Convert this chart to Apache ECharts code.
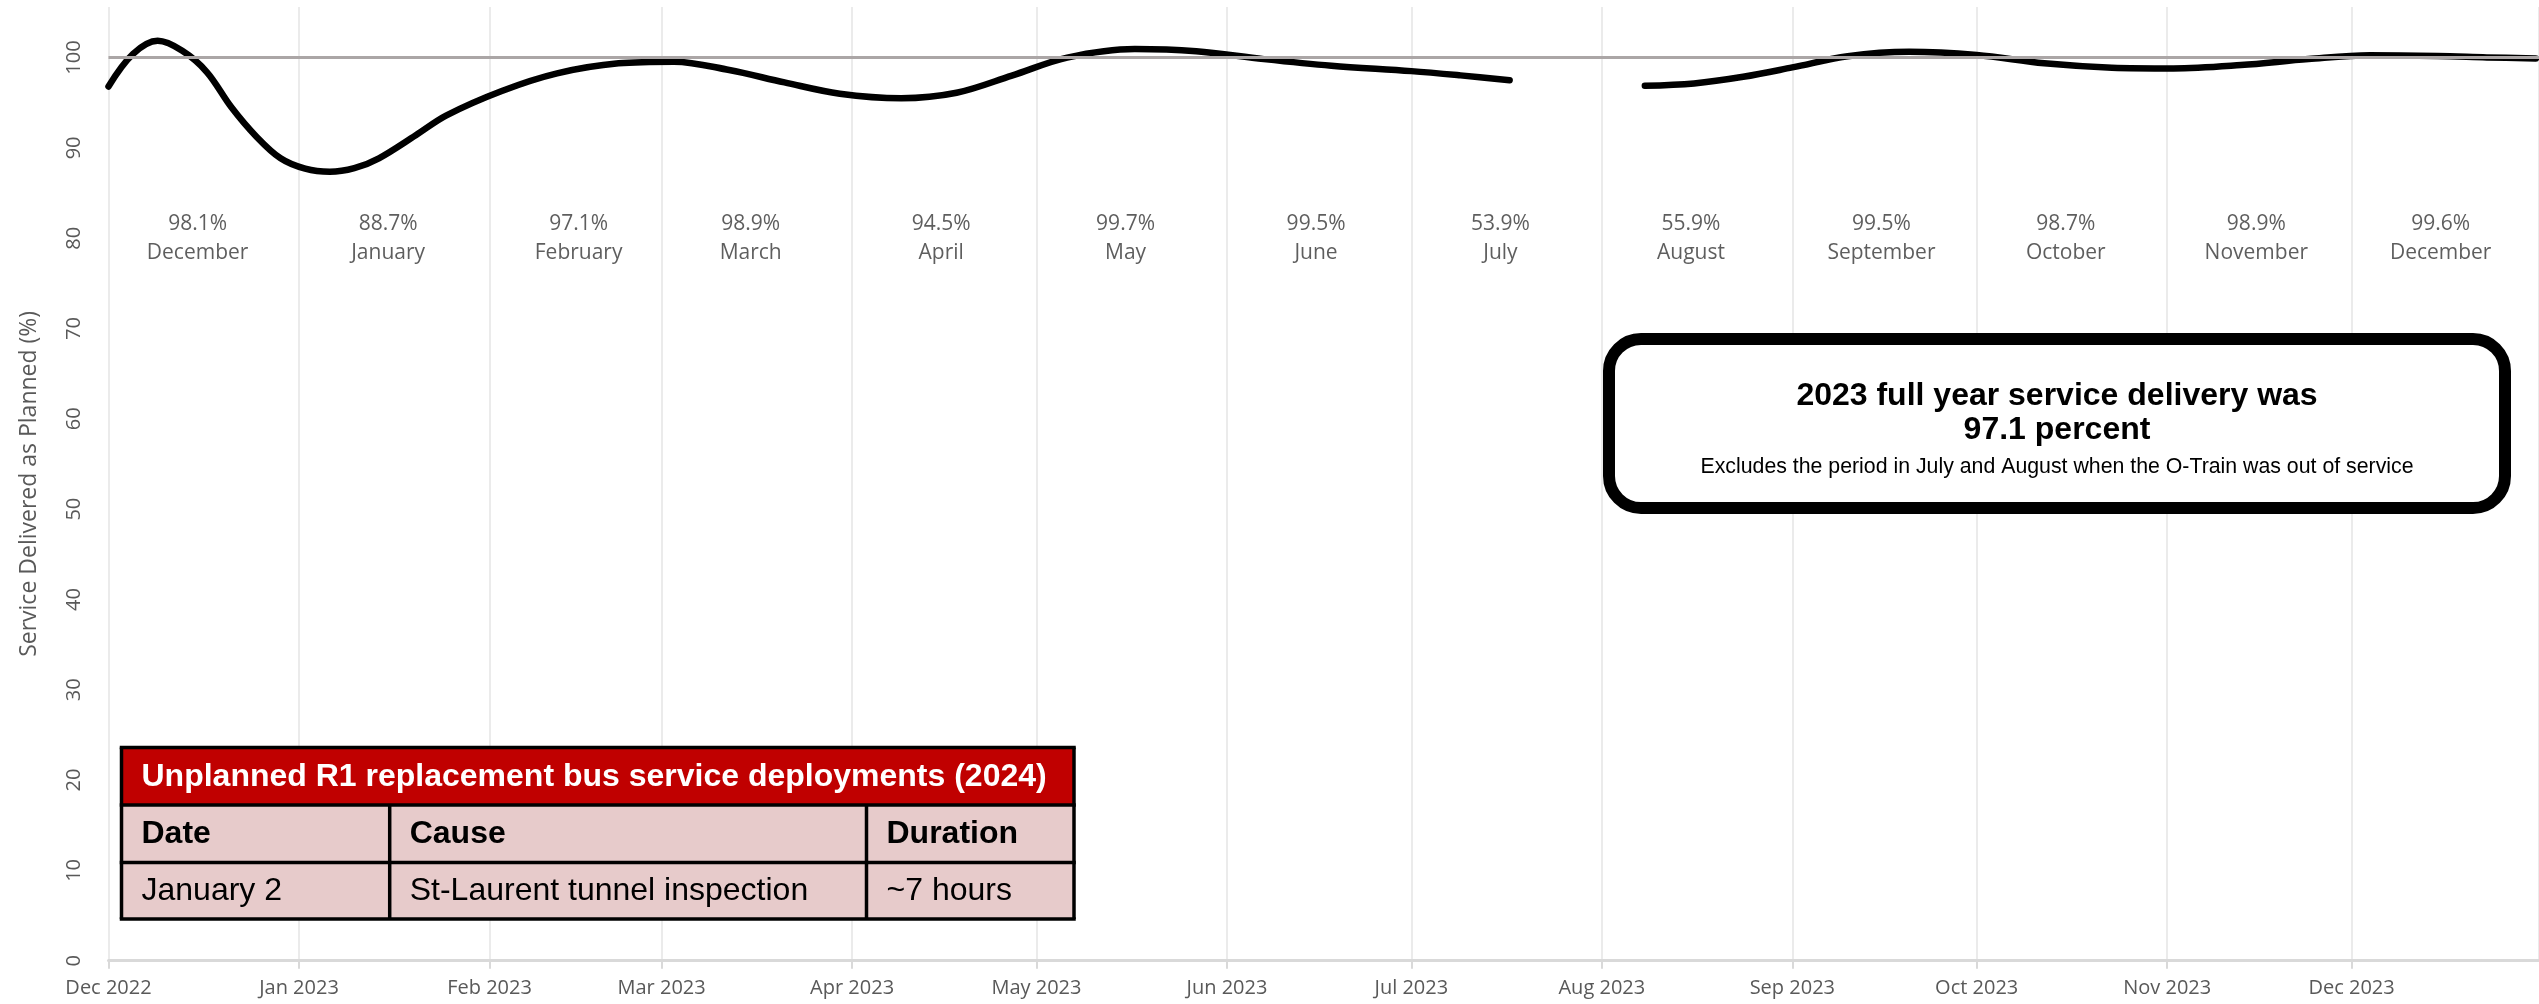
<!DOCTYPE html>
<html>
<head>
<meta charset="utf-8">
<title>Service Delivered as Planned</title>
<script src="https://cdn.jsdelivr.net/npm/echarts@6/dist/echarts.min.js"></script>
<style>
  html, body { margin: 0; padding: 0; background: #ffffff; }
  #chart { width: 2539px; height: 1004px; }
</style>
</head>
<body>
<div id="chart"></div>
<script>
// Smoothed service delivery trace (%); null marks the July–August O-Train shutdown gap
const curveDates = [
  '2022-12-01', '2022-12-05', '2022-12-09', '2022-12-13', '2022-12-17', '2022-12-21',
  '2022-12-25', '2022-12-29', '2023-01-02', '2023-01-06', '2023-01-10', '2023-01-14',
  '2023-01-20', '2023-01-25',
  '2023-02-03', '2023-02-12', '2023-02-22', '2023-03-03', '2023-03-12', '2023-03-21',
  '2023-03-30', '2023-04-09', '2023-04-18', '2023-04-27', '2023-05-06', '2023-05-17',
  '2023-05-27', '2023-06-07', '2023-06-18', '2023-07-01', '2023-07-09', '2023-07-17',
  '2023-07-28',
  '2023-08-08', '2023-08-16', '2023-08-24', '2023-09-01', '2023-09-10', '2023-09-20',
  '2023-10-01', '2023-10-12', '2023-10-23', '2023-11-02', '2023-11-13', '2023-11-24',
  '2023-12-04', '2023-12-15', '2023-12-23', '2023-12-31'
];
const curveValues = [
  96.8, 100.4, 101.85, 100.75, 98.4, 94.5,
  91.3, 88.85, 87.7, 87.35, 87.75, 88.85,
  91.4, 93.6,
  96.3, 98.25, 99.36, 99.55, 98.62, 97.25,
  96.0, 95.5, 96.1, 98.0, 100.0, 100.95,
  100.7, 99.83, 99.1, 98.5, 98.03, 97.5,
  null,
  96.88, 97.14, 97.87, 98.91, 100.15, 100.64,
  100.28, 99.36, 98.88, 98.8, 99.17, 99.83,
  100.25, 100.17, 100.02, 99.9
];

// 100 % planned-service reference
const targetValue = 100;

// Monthly service delivery
const months = [
  '2022-12', '2023-01', '2023-02', '2023-03', '2023-04', '2023-05', '2023-06',
  '2023-07', '2023-08', '2023-09', '2023-10', '2023-11', '2023-12'
];
const monthNames = [
  'December', 'January', 'February', 'March', 'April', 'May', 'June',
  'July', 'August', 'September', 'October', 'November', 'December'
];
const monthlyDelivery = [98.1, 88.7, 97.1, 98.9, 94.5, 99.7, 99.5, 53.9, 55.9, 99.5, 98.7, 98.9, 99.6];

// Axis tick labels
const monthAbbr = ['Jan', 'Feb', 'Mar', 'Apr', 'May', 'Jun', 'Jul', 'Aug', 'Sep', 'Oct', 'Nov', 'Dec'];
const yAxisTitle = 'Service Delivered as Planned (%)';

// Summary box text
const summaryLines = [
  '2023 full year service delivery was',
  '97.1 percent',
  'Excludes the period in July and August when the O-Train was out of service'
];

// Replacement bus deployments table
const tableTitle = 'Unplanned R1 replacement bus service deployments (2024)';
const tableHeaders = ['Date', 'Cause', 'Duration'];
const tableRow = ['January 2', 'St-Laurent tunnel inspection', '~7 hours'];

// ---------------------------------------------------------------------------
const DAY = 86400000;
const utc = s => {
  const p = s.split('-').map(Number);
  return Date.UTC(p[0], p[1] - 1, p[2] || 1);
};
const X_MIN = utc('2022-12-01');
const X_MAX = Date.UTC(2023, 11, 31, 12);
const LABEL_ROW = 80;           // vertical position of the monthly captions
const AXIS_FONT = '"Open Sans", sans-serif';
const BOX_FONT = '"Liberation Sans", Arial, sans-serif';

const lineData = curveDates.map((d, i) => [utc(d), curveValues[i] == null ? '-' : curveValues[i]]);
const labelData = months.map(m => {
  const p = m.split('-').map(Number);
  return [Date.UTC(p[0], p[1] - 1, 15, 12), LABEL_ROW];
});

// Table geometry
const T = { left: 121.5, right: 1074, top: 747.5, row1: 805, row2: 862.5, bottom: 919, col1: 389.7, col2: 866.5, pad: 20 };
const colX = [T.left, T.col1, T.col2];
const tableStroke = '#000000';
const tableLineW = 3.5;

const graphics = [];
// summary box
graphics.push({
  type: 'rect', z: 100,
  shape: { x: 1609, y: 339, width: 896, height: 169, r: 32 },
  style: { fill: '#ffffff', stroke: '#000000', lineWidth: 12 }
});
const boxCx = 2057;
[[summaryLines[0], 396, 'bold 32px'], [summaryLines[1], 430, 'bold 32px'], [summaryLines[2], 467, '21.3px']].forEach(([t, y, f]) => {
  graphics.push({
    type: 'text', z: 101, x: boxCx, y: y,
    style: { text: t, fill: '#000000', font: f + ' ' + BOX_FONT, align: 'center', verticalAlign: 'middle', textAlign: 'center', textVerticalAlign: 'middle' }
  });
});
// table fills
graphics.push({ type: 'rect', z: 100, shape: { x: T.left, y: T.top, width: T.right - T.left, height: T.row1 - T.top }, style: { fill: '#c00000' } });
graphics.push({ type: 'rect', z: 100, shape: { x: T.left, y: T.row1, width: T.right - T.left, height: T.bottom - T.row1 }, style: { fill: '#e7cbcb' } });
// table rules
[T.top, T.row1, T.row2, T.bottom].forEach(y => {
  graphics.push({ type: 'line', z: 102, shape: { x1: T.left - 1.75, y1: y, x2: T.right + 1.75, y2: y }, style: { stroke: tableStroke, lineWidth: tableLineW } });
});
[T.left, T.right].forEach(x => {
  graphics.push({ type: 'line', z: 102, shape: { x1: x, y1: T.top, x2: x, y2: T.bottom }, style: { stroke: tableStroke, lineWidth: tableLineW } });
});
[T.col1, T.col2].forEach(x => {
  graphics.push({ type: 'line', z: 102, shape: { x1: x, y1: T.row1, x2: x, y2: T.bottom }, style: { stroke: tableStroke, lineWidth: tableLineW } });
});
// table text
const cellText = (t, x, y, color, weight) => ({
  type: 'text', z: 103, x: x, y: y,
  style: { text: t, fill: color, font: weight + ' 32px ' + BOX_FONT, align: 'left', verticalAlign: 'middle', textAlign: 'left', textVerticalAlign: 'middle' }
});
graphics.push(cellText(tableTitle, T.left + T.pad, (T.top + T.row1) / 2 + 1, '#ffffff', 'bold'));
tableHeaders.forEach((h, i) => graphics.push(cellText(h, colX[i] + T.pad, (T.row1 + T.row2) / 2, '#000000', 'bold')));
tableRow.forEach((c, i) => graphics.push(cellText(c, colX[i] + T.pad, (T.row2 + T.bottom) / 2, '#000000', 'normal')));

const chart = echarts.init(document.getElementById('chart'), null, { renderer: 'canvas', width: 2539, height: 1004 });

chart.setOption({
  animation: false,
  useUTC: true,
  backgroundColor: '#ffffff',
  grid: { left: 108.5, right: -6, top: 7, bottom: 43.3, containLabel: false },
  xAxis: {
    type: 'time',
    min: X_MIN,
    max: X_MAX,
    splitNumber: 13,
    minInterval: 28 * DAY,
    maxInterval: 31 * DAY,
    axisLine: { show: true, lineStyle: { color: '#d9d9d9', width: 3 } },
    axisTick: { show: true, length: 8, lineStyle: { color: '#d9d9d9', width: 2 } },
    splitLine: { show: true, lineStyle: { color: '#ebebeb', width: 2 } },
    axisLabel: {
      color: '#595959', fontFamily: AXIS_FONT, fontSize: 20, margin: 18,
      showMaxLabel: false, hideOverlap: false,
      formatter: v => {
        const d = new Date(v);
        if (d.getUTCDate() !== 1 || v >= X_MAX) return '';
        return monthAbbr[d.getUTCMonth()] + ' ' + d.getUTCFullYear();
      }
    }
  },
  yAxis: {
    type: 'value',
    min: 0,
    max: 105.6,
    interval: 10,
    name: yAxisTitle,
    nameLocation: 'middle',
    nameRotate: 90,
    nameGap: 68,
    nameTextStyle: { color: '#595959', fontFamily: AXIS_FONT, fontSize: 23 },
    axisLine: { show: false },
    axisTick: { show: false },
    splitLine: { show: false },
    axisLabel: { rotate: 90, showMaxLabel: false, margin: 24, color: '#595959', fontFamily: AXIS_FONT, fontSize: 20 }
  },
  series: [
    {
      name: 'Service delivered',
      type: 'line',
      data: lineData,
      smooth: 0.35,
      connectNulls: false,
      showSymbol: false,
      symbol: 'none',
      lineStyle: { color: '#000000', width: 6.5, cap: 'round', join: 'round' },
      z: 3,
      silent: true
    },
    {
      name: 'Planned',
      type: 'line',
      data: [[X_MIN, targetValue], [X_MAX, targetValue]],
      showSymbol: false,
      symbol: 'none',
      lineStyle: { color: '#aba6a6', width: 3 },
      z: 4,
      silent: true
    },
    {
      name: 'Monthly captions',
      type: 'scatter',
      data: labelData,
      symbolSize: 0,
      silent: true,
      z: 5,
      label: {
        show: true,
        position: 'inside',
        formatter: p => monthlyDelivery[p.dataIndex].toFixed(1) + '%\n' + monthNames[p.dataIndex],
        color: '#363636',
        fontFamily: AXIS_FONT,
        fontSize: 21,
        lineHeight: 29,
        align: 'center',
        verticalAlign: 'middle'
      }
    }
  ],
  graphic: graphics
});
</script>
</body>
</html>
